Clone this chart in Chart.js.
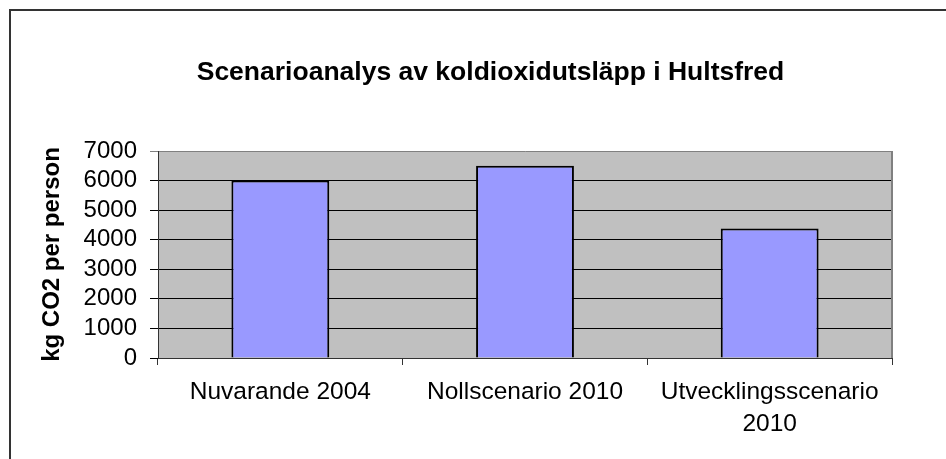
<!DOCTYPE html>
<html>
<head>
<meta charset="utf-8">
<script src="https://cdn.jsdelivr.net/npm/chart.js@4"></script>
<style>
    html, body { margin: 0; padding: 0; background: #fff; overflow: hidden; }
    #wrap { position: relative; width: 946px; height: 459px; }
    #frame {
        position: absolute; left: 9px; top: 9px;
        width: 2000px; height: 2000px;
        border: 2px solid #333;
    }
    #co2Chart { position: absolute; left: 0; top: 0; }
</style>
</head>
<body>
<div id="wrap">
    <div id="frame"></div>
    <canvas id="co2Chart" width="946" height="459"></canvas>
</div>
<script>
const chartTitle = "Scenarioanalys av koldioxidutsläpp i Hultsfred";
const yTitle = "kg CO2 per person";
const scenarios = [["Nuvarande 2004"], ["Nollscenario 2010"], ["Utvecklingsscenario", "2010"]];
const co2PerPerson = [6000, 6500, 4380];
const yMax = 7000;
const yStep = 1000;

const fontFamily = "'Liberation Sans', Arial, sans-serif";

// grey plot area + grey right border, like the Excel original
const plotBackground = {
    id: "plotBackground",
    afterLayout(chart) {
        // the Excel title is centred a bit right of the canvas middle
        const t = chart.titleBlock;
        if (t) {
            t.left = 89;
            t.right = chart.chartArea.right;
        }
    },
    beforeDraw(chart) {
        const {ctx, chartArea: a} = chart;
        ctx.save();
        ctx.fillStyle = "#c0c0c0";
        ctx.fillRect(a.left, a.top, a.right - a.left, a.bottom - a.top);
        ctx.restore();
    },
    afterDatasetsDraw(chart) {
        const {ctx, chartArea: a} = chart;
        ctx.save();
        ctx.strokeStyle = "#808080";
        ctx.lineWidth = 2;
        ctx.beginPath();
        ctx.moveTo(a.right, a.top);
        ctx.lineTo(a.right, a.bottom);
        ctx.stroke();
        ctx.restore();
    },
};

document.addEventListener("DOMContentLoaded", function () {
    const ctx = document.getElementById("co2Chart").getContext("2d");

    new Chart(ctx, {
        type: "bar",
        data: {
            labels: scenarios,
            datasets: [{
                data: co2PerPerson,
                backgroundColor: "#9999ff",
                borderColor: "#000",
                borderWidth: 2,
                barPercentage: 0.4,
                categoryPercentage: 1,
            }],
        },
        options: {
            responsive: false,
            animation: false,
            layout: {padding: {left: 0, right: 54, top: 0, bottom: 0}},
            plugins: {
                legend: {display: false},
                tooltip: {enabled: false},
                title: {
                    display: true,
                    text: chartTitle,
                    color: "#000",
                    font: {family: fontFamily, size: 26.5, weight: "bold", lineHeight: 1.2},
                    padding: {top: 57.1, bottom: 62.1},
                },
            },
            scales: {
                x: {
                    grid: {drawOnChartArea: false, tickLength: 7, color: "#333"},
                    border: {color: "#333", width: 1},
                    ticks: {
                        color: "#000",
                        maxRotation: 0,
                        autoSkip: false,
                        padding: 11,
                        font: {family: fontFamily, size: 24.5, lineHeight: 1.3},
                    },
                    afterFit(scale) { scale.height = 101; },
                },
                y: {
                    min: 0,
                    max: yMax,
                    grid: {
                        tickLength: 8,
                        color: ctx => ctx.tick && ctx.tick.value === yMax ? "#808080" : "#000",
                    },
                    border: {color: "#333", width: 1},
                    ticks: {
                        stepSize: yStep,
                        autoSkip: false,
                        color: "#000",
                        padding: 13,
                        font: {family: fontFamily, size: 24},
                        callback: value => String(value),
                    },
                    title: {
                        display: true,
                        text: yTitle,
                        color: "#000",
                        font: {family: fontFamily, size: 24, weight: "bold", lineHeight: 1.2},
                        padding: {top: 37.6, bottom: 0},
                    },
                    afterFit(scale) { scale.width = 158; },
                },
            },
        },
        plugins: [plotBackground],
    });
});
</script>
</body>
</html>
